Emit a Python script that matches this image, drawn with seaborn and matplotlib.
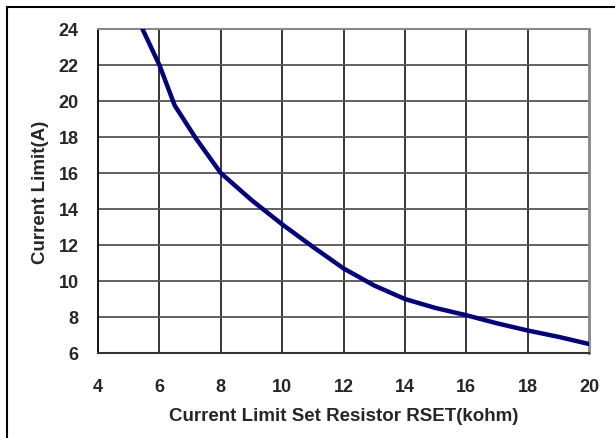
import matplotlib
matplotlib.use("Agg")
import matplotlib.pyplot as plt
import pandas as pd
import seaborn as sns
from matplotlib.patches import Rectangle

# resistor value (kohm) vs current limit (A)
rset_kohm = [5.45, 6.0, 6.5, 7.2, 8.0, 9.0, 10.0, 11.0, 12.0, 13.0, 14.0, 15.0, 16.0, 17.0, 18.0, 19.0, 20.0]
current_a = [24.0, 22.0, 19.75, 17.9, 16.0, 14.5, 13.15, 11.9, 10.7, 9.75, 9.0, 8.5, 8.1, 7.65, 7.25, 6.9, 6.5]

x_ticks = [4, 6, 8, 10, 12, 14, 16, 18, 20]
y_ticks = [6, 8, 10, 12, 14, 16, 18, 20, 22, 24]

sns.set_style("white")
plt.rcParams['font.family'] = ['Liberation Sans', 'DejaVu Sans']

df = pd.DataFrame({"rset": rset_kohm, "current": current_a})

fig = plt.figure(figsize=(6.15, 4.39), dpi=100)
ax = fig.add_axes([98 / 615, 1 - 354 / 439, (589 - 98) / 615, (354 - 30) / 439])

sns.lineplot(data=df, x="rset", y="current", ax=ax, color="#000080", linewidth=3.2,
             zorder=3, sort=False)

ax.set_xlim(4, 20)
ax.set_ylim(6, 24)
ax.set_xticks(x_ticks)
ax.set_yticks(y_ticks)
ax.set_xticklabels([str(t) for t in x_ticks], fontsize=13, fontweight="bold")
ax.set_yticklabels([str(t) for t in y_ticks], fontsize=13, fontweight="bold")
ax.tick_params(axis="x", length=0, pad=18)
ax.tick_params(axis="y", length=0, pad=14)

for t in x_ticks[1:-1]:
    ax.axvline(t, color="black", linewidth=1.1, zorder=1)
for t in y_ticks[1:-1]:
    ax.axhline(t, color="#555555", linewidth=1.3, zorder=1)

ax.spines["left"].set_color("black")
ax.spines["left"].set_linewidth(1.3)
ax.spines["bottom"].set_color("#333333")
ax.spines["bottom"].set_linewidth(1.5)
ax.spines["top"].set_color("#888888")
ax.spines["top"].set_linewidth(1.5)
ax.spines["right"].set_color("#888888")
ax.spines["right"].set_linewidth(2)

ax.set_xlabel("Current Limit Set Resistor RSET(kohm)", fontsize=13.5, fontweight="bold", labelpad=9)
ax.set_ylabel("Current Limit(A)", fontsize=13.5, fontweight="bold", labelpad=7)

# outer frame: only left and top edges are visible in the picture
fig.add_artist(Rectangle((7 / 615, -0.1), 1.2, 1 - 8 / 439 + 0.1, transform=fig.transFigure,
                         fill=False, edgecolor="black", linewidth=1.5, clip_on=False))

fig.savefig("out.png", dpi=100)
